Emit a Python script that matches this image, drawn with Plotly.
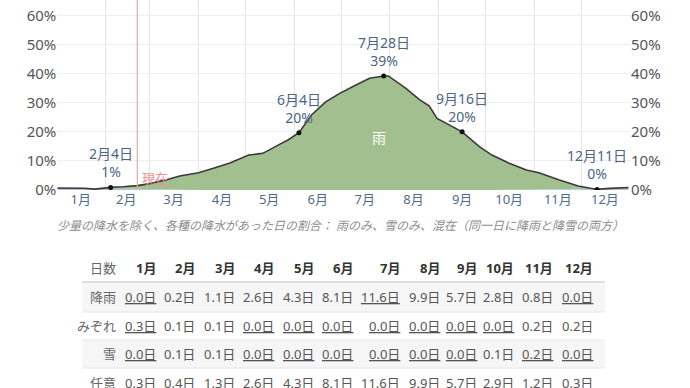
import plotly.graph_objects as go

# ---------------- data ----------------
dates = ["2023-01-01", "2023-01-10", "2023-01-18", "2023-01-25", "2023-02-04", "2023-02-12",
         "2023-02-21", "2023-03-01", "2023-03-10", "2023-03-20", "2023-04-01", "2023-04-10",
         "2023-04-21", "2023-05-03", "2023-05-12", "2023-05-22", "2023-05-28", "2023-06-04",
         "2023-06-12", "2023-06-21", "2023-06-30", "2023-07-10", "2023-07-19", "2023-07-28",
         "2023-07-31", "2023-08-11", "2023-08-20", "2023-08-26", "2023-08-31", "2023-09-06",
         "2023-09-16", "2023-09-27", "2023-10-05", "2023-10-16", "2023-10-27", "2023-11-04",
         "2023-11-17", "2023-11-29", "2023-12-11", "2023-12-19", "2023-12-31"]
rain = [0.05, 0.05, 0.05, 0.0, 0.5, 0.7, 1.1, 1.9, 3.1, 4.7, 5.9, 7.4,
        9.3, 12.0, 12.6, 15.5, 17.2, 19.7, 25.8, 30.3, 33.2, 36.0, 38.4, 39.2,
        39.2, 35.0, 31.0, 28.9, 24.6, 22.9, 20.0, 14.9, 12.0, 9.1, 6.8, 5.7,
        3.1, 1.0, 0.0, 0.0, 0.1]
mixed = [0.6, 0.6, 0.5, 0.25, 0.3, 0.3, 0.25, 0.2, 0.15, 0.1, 0.0, 0.0,
         0.0, 0.0, 0.0, 0.0, 0.0, 0.0, 0.0, 0.0, 0.0, 0.0, 0.0, 0.0,
         0.0, 0.0, 0.0, 0.0, 0.0, 0.0, 0.0, 0.0, 0.0, 0.0, 0.0, 0.05,
         0.1, 0.2, 0.15, 0.5, 0.7]
snow = [0.05, 0.05, 0.05, 0.05, 0.1, 0.1, 0.15, 0.1, 0.05, 0.0, 0.0, 0.0,
        0.0, 0.0, 0.0, 0.0, 0.0, 0.0, 0.0, 0.0, 0.0, 0.0, 0.0, 0.0,
        0.0, 0.0, 0.0, 0.0, 0.0, 0.0, 0.0, 0.0, 0.0, 0.1, 0.1, 0.15,
        0.2, 0.2, 0.05, 0.05, 0.05]

month_mid = ["2023-01-16", "2023-02-14", "2023-03-16", "2023-04-16", "2023-05-16", "2023-06-16",
             "2023-07-16", "2023-08-16", "2023-09-16", "2023-10-16", "2023-11-16", "2023-12-16"]
month_labels = ["1月", "2月", "3月", "4月", "5月", "6月", "7月", "8月", "9月", "10月", "11月", "12月"]
month_starts = ["2023-02-01", "2023-03-01", "2023-04-01", "2023-05-01", "2023-06-01",
                "2023-07-01", "2023-08-01", "2023-09-01", "2023-10-01", "2023-11-01", "2023-12-01"]
y_ticks = [0, 10, 20, 30, 40, 50, 60]
y_labels = ["0%", "10%", "20%", "30%", "40%", "50%", "60%"]

hl_dates = ["2023-02-04", "2023-06-04", "2023-07-28", "2023-09-16", "2023-12-11"]
hl_labels = ["2月4日", "6月4日", "7月28日", "9月16日", "12月11日"]
hl_pcts = ["1%", "20%", "39%", "20%", "0%"]
today = "2023-02-21"

caption = "少量の降水を除く、各種の降水があった日の割合： 雨のみ、雪のみ、混在（同一日に降雨と降雪の両方）"

table_header = "日数"
table_rows = ["降雨", "みぞれ", "雪", "任意"]
rain_days = [0.0, 0.2, 1.1, 2.6, 4.3, 8.1, 11.6, 9.9, 5.7, 2.8, 0.8, 0.0]
mixed_days = [0.3, 0.1, 0.1, 0.0, 0.0, 0.0, 0.0, 0.0, 0.0, 0.0, 0.2, 0.2]
snow_days = [0.0, 0.1, 0.1, 0.0, 0.0, 0.0, 0.0, 0.0, 0.0, 0.1, 0.2, 0.0]
any_days = [0.3, 0.4, 1.3, 2.6, 4.3, 8.1, 11.6, 9.9, 5.7, 2.9, 1.2, 0.3]

# ---------------- layout helpers ----------------
W, H = 690, 388
FONT = "Noto Sans, Noto Sans CJK JP, sans-serif"
PL, PR, PB = 57.3, 630.0, 190.0


def px(x):
    return x / W


def py(y):
    return 1 - y / H


total = [round(r + m + s, 3) for r, m, s in zip(rain, mixed, snow)]

fig = go.Figure()
fig.add_trace(go.Scatter(x=dates, y=snow, stackgroup="p", mode="none",
                         fillcolor="rgba(170,205,235,1)", hoverinfo="skip", name="雪"))
fig.add_trace(go.Scatter(x=dates, y=mixed, stackgroup="p", mode="none",
                         fillcolor="rgba(160,172,196,1)", hoverinfo="skip", name="みぞれ"))
fig.add_trace(go.Scatter(x=dates, y=rain, stackgroup="p", mode="none",
                         fillcolor="rgba(161,191,143,1)", hoverinfo="skip", name="雨"))
fig.add_trace(go.Scatter(x=dates, y=total, mode="lines",
                         line=dict(color="#3a3a3a", width=1.6), hoverinfo="skip"))
hl_vals = [total[dates.index(d)] for d in hl_dates]
fig.add_trace(go.Scatter(x=hl_dates, y=hl_vals, mode="markers", yaxis="y2",
                         marker=dict(color="#111", size=5), hoverinfo="skip"))

for d, lab, pct, v in zip(hl_dates, hl_labels, hl_pcts, hl_vals):
    fig.add_annotation(x=d, y=v, text=f"{lab}<br>{pct}", showarrow=False,
                       yanchor="bottom", yshift=4,
                       font=dict(family=FONT, size=14, color="#4d6484"))

fig.add_annotation(x="2023-07-25", y=18.2, text="雨", showarrow=False, yanchor="middle",
                   font=dict(family=FONT, size=14, color="white"))

# today line
fig.add_shape(type="line", x0=today, x1=today, y0=0, y1=1, xref="x", yref="y domain",
              line=dict(color="#eba6a6", width=1.2))
fig.add_annotation(x=today, y=4.1, text="現在", showarrow=False, xanchor="left", xshift=3,
                   yanchor="middle", font=dict(family=FONT, size=13, color="#e79494"))

# caption
fig.add_annotation(x=px(340), y=py(225), xref="paper", yref="paper", text=f"<i>{caption}</i>",
                   showarrow=False, xanchor="center", yanchor="middle",
                   font=dict(family=FONT, size=12, color="#8c8c8c"))

# ---------------- table ----------------
col_right = [158, 197, 237, 276, 316, 355, 402, 442, 479, 516, 555, 595]
header_y = 268
row_y = [297, 326, 354, 383]
label_right = 118
tbl_left, tbl_right = 82, 605

for top, bot in [(282, 312), (340, 368)]:
    fig.add_shape(type="rect", xref="paper", yref="paper", x0=px(tbl_left), x1=px(tbl_right),
                  y0=py(bot), y1=py(top), fillcolor="#f6f6f6", line=dict(width=0), layer="below")
for ly, col, wd in [(282, "#dedede", 2), (312, "#e8e8e8", 1), (340, "#e8e8e8", 1), (368, "#e8e8e8", 1)]:
    fig.add_shape(type="line", xref="paper", yref="paper", x0=px(tbl_left), x1=px(tbl_right),
                  y0=py(ly), y1=py(ly), line=dict(color=col, width=wd))

fig.add_annotation(x=px(label_right), y=py(header_y), xref="paper", yref="paper", text=table_header,
                   showarrow=False, xanchor="right", yanchor="middle",
                   font=dict(family=FONT, size=13, color="#666"))
for xr, m in zip(col_right, month_labels):
    fig.add_annotation(x=px(xr), y=py(header_y), xref="paper", yref="paper", text=f"<b>{m}</b>",
                       showarrow=False, xanchor="right", yanchor="middle",
                       font=dict(family=FONT, size=13, color="#333"))

for name, vals, yy in zip(table_rows, [rain_days, mixed_days, snow_days, any_days], row_y):
    fig.add_annotation(x=px(label_right), y=py(yy), xref="paper", yref="paper", text=name,
                       showarrow=False, xanchor="right", yanchor="middle",
                       font=dict(family=FONT, size=13, color="#666"))
    lo, hi = min(vals), max(vals)
    for xr, v in zip(col_right, vals):
        t = f"{v:.1f}日"
        if v == lo or v == hi:
            t = f"<u>{t}</u>"
        fig.add_annotation(x=px(xr), y=py(yy), xref="paper", yref="paper", text=t,
                           showarrow=False, xanchor="right", yanchor="middle",
                           font=dict(family=FONT, size=13, color="#555"))

ymax = 65.3
fig.update_layout(
    width=W, height=H, margin=dict(l=0, r=0, t=0, b=0),
    paper_bgcolor="white", plot_bgcolor="white", showlegend=False,
    font=dict(family=FONT),
    xaxis=dict(type="date", domain=[px(PL), px(PR)], range=["2023-01-01", "2024-01-01"],
               tickvals=month_mid, ticktext=month_labels, showgrid=False, zeroline=False,
               showline=False, ticks="", automargin=False,
               tickfont=dict(family=FONT, size=13, color="#4f6b8c"),
               minor=dict(tickvals=month_starts, showgrid=True, gridcolor="#e4e4e4", gridwidth=1)),
    yaxis=dict(domain=[py(PB), 1], range=[0, ymax], tickvals=y_ticks, ticktext=y_labels,
               showgrid=True, gridcolor="#eeeeee", zeroline=False, showline=False, ticks="",
               automargin=False, tickfont=dict(family=FONT, size=15, color="#555")),
    yaxis2=dict(overlaying="y", side="right", range=[0, ymax], tickvals=y_ticks, ticktext=y_labels,
                showgrid=False, zeroline=False, showline=False, ticks="", automargin=False,
                tickfont=dict(family=FONT, size=15, color="#555")),
)

fig.write_html("out.html", config={"displayModeBar": False},
               post_script="document.body.style.margin='0px';")
